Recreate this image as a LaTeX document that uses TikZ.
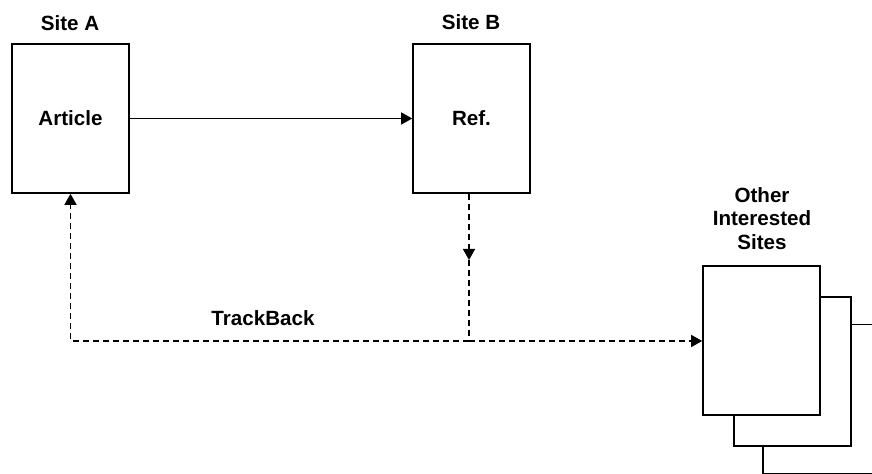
\documentclass[tikz,border=0pt]{standalone}
\usepackage{fontspec}
\setmainfont{Liberation Sans}
\usetikzlibrary{arrows.meta,positioning}

\tikzset{
  site/.style={draw, line width=0.8pt, fill=white, inner sep=0pt,
    minimum width=58.5pt, minimum height=74.5pt},
  caption/.style={font=\bfseries\fontsize{10.3}{11.8}\selectfont,
    align=center, inner sep=0pt},
  link/.style={line width=0.7pt, -{Triangle[length=5.5pt,width=6pt]}},
  track/.style={link, dash pattern=on 3pt off 2pt},
}

\begin{document}
\begin{tikzpicture}[x=0.5pt, y=-0.5pt]
  \clip (0,0) rectangle (872,474);

  % the two sites
  \node[site, caption] (article) at (70.5,118.5) {Article};
  \node[site, caption] (ref) at (471.5,118.5) {Ref.};
  \node[caption] (siteA) at (70,23) {Site A};
  \node[caption] (siteB) at (471,22) {Site B};

  % stack of other sites, back to front
  \node[site] (sites3) at (821.5,399) {};
  \node[site] (sites2) at (792.5,371.5) {};
  \node[site] (sites) at (761.5,340.5) {};
  \node[caption] (others) at (762,218.5) {Other\\Interested\\Sites};

  \node[caption] (trackback) at (263,318) {TrackBack};

  \coordinate (fork) at (469,341);
  \coordinate (notify) at (469,260);

  \draw[link] (article) -- (ref);
  \draw[track] (notify |- ref.south) -- (notify);
  \draw[line width=0.7pt, dash pattern=on 3pt off 2pt] (notify) -- (fork);
  \draw[track] (fork) -| (article.south);
  \draw[track] (fork) -- (fork -| sites.west);
\end{tikzpicture}
\end{document}
